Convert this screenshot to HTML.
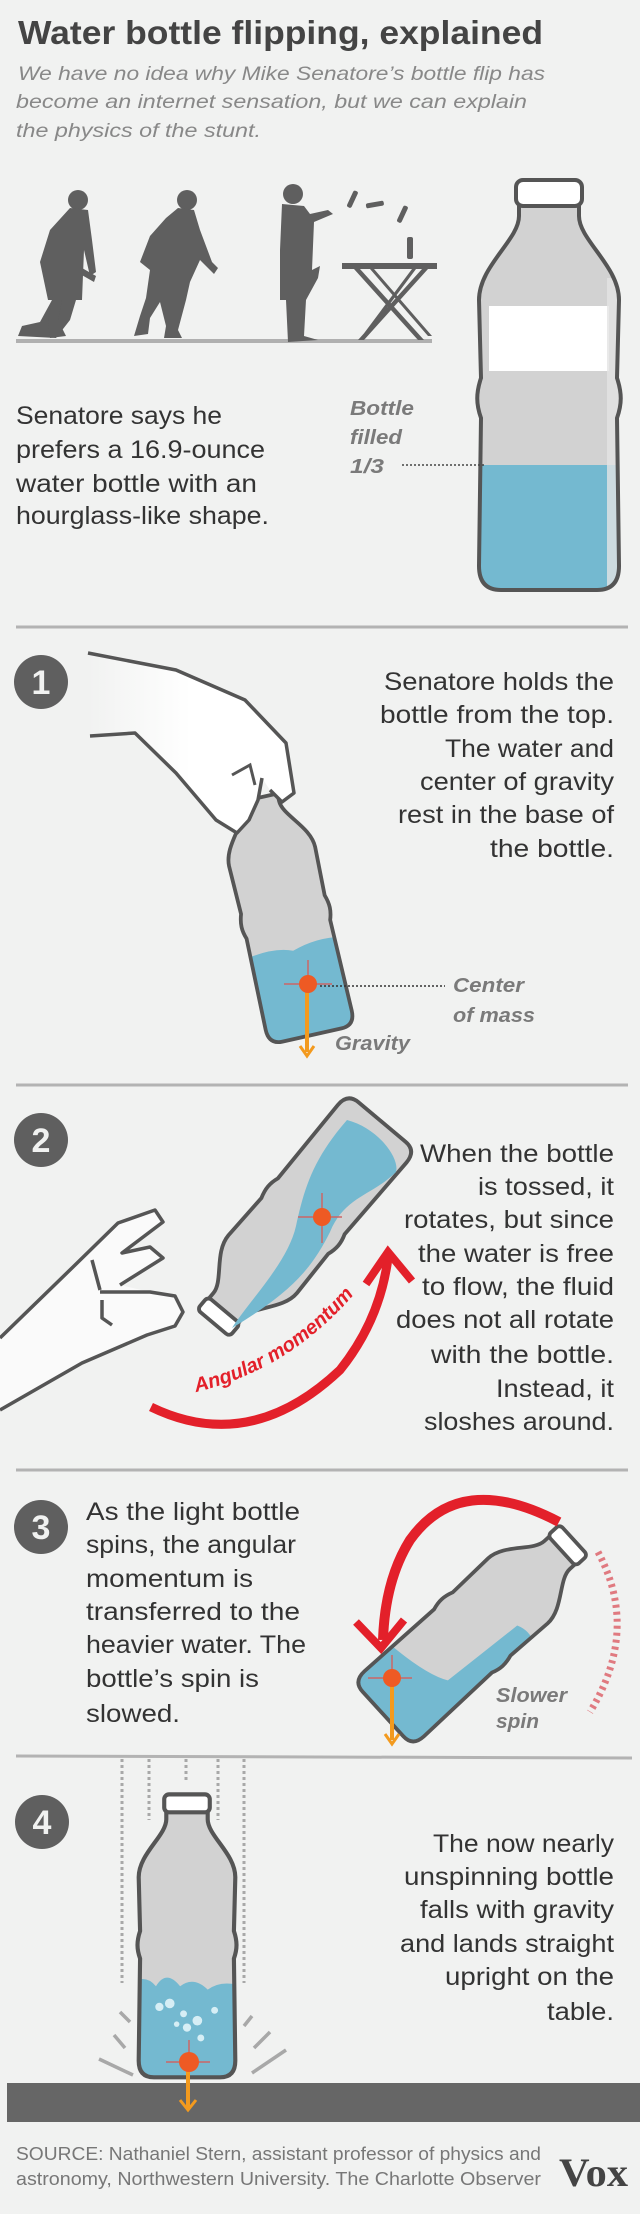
<!DOCTYPE html>
<html><head><meta charset="utf-8"><style>
html,body{margin:0;padding:0;background:#f1f2f1;}
svg{display:block;}
.t{font-family:"Liberation Sans",sans-serif;fill:#333;font-size:25px;}
.lab{font-family:"Liberation Sans",sans-serif;fill:#7a7a7a;font-size:20px;font-style:italic;font-weight:bold;}
.num{font-family:"Liberation Sans",sans-serif;fill:#f1f2f1;font-size:34px;font-weight:bold;}
</style></head><body>
<svg width="640" height="2214" viewBox="0 0 640 2214" xmlns="http://www.w3.org/2000/svg">
<defs>
<path id="bb" d="M -30 26 L -30 38 C -30 62 -70 88 -70 122 L -68 200 C -73 215 -73 226 -68 240 L -70 388 Q -70 412 -48 412 L 48 412 Q 70 412 70 388 L 68 240 C 73 226 73 215 68 200 L 70 122 C 70 88 30 62 30 38 L 30 26 Z"/>
<clipPath id="bc" clipPathUnits="userSpaceOnUse"><use href="#bb"/></clipPath>
<linearGradient id="hg" x1="0" x2="1" y1="0" y2="0"><stop offset="0" stop-color="#f1f2f1"/><stop offset="0.5" stop-color="#fff"/></linearGradient>
</defs>
<rect width="640" height="2214" fill="#f1f2f1"/>

<!-- Title -->
<text x="18" y="44" font-family="Liberation Sans,sans-serif" font-weight="bold" font-size="33" fill="#444" textLength="525" lengthAdjust="spacingAndGlyphs">Water bottle flipping, explained</text>
<g font-family="Liberation Sans,sans-serif" font-style="italic" font-size="19" fill="#888">
<text x="18" y="80" textLength="527" lengthAdjust="spacingAndGlyphs">We have no idea why Mike Senatore’s bottle flip has</text>
<text x="16" y="108" textLength="511" lengthAdjust="spacingAndGlyphs">become an internet sensation, but we can explain</text>
<text x="16" y="137" textLength="245" lengthAdjust="spacingAndGlyphs">the physics of the stunt.</text>
</g>

<!-- silhouettes -->
<g fill="#5f5f5f">
<rect x="16" y="339" width="416" height="4" fill="#b0b0b0"/>
<circle cx="78" cy="200" r="10"/>
<path d="M70 208 L88 210 L92 240 L96 272 L90 276 L84 250 L82 300 L76 300 L70 320 L56 338 L18 336 L22 326 L40 322 L52 300 L48 300 L40 262 L50 230 Z"/>
<path d="M52 300 L62 300 L58 320 L66 336 L50 338 L48 320 Z"/>
<path d="M82 268 L96 276 L94 282 L80 274 Z"/>
<circle cx="187" cy="200" r="10"/>
<path d="M178 208 L194 210 L200 230 L212 262 L218 268 L214 274 L200 260 L190 282 L186 300 L178 330 L182 338 L164 338 L166 326 L160 302 L150 318 L148 334 L134 336 L140 316 L146 298 L150 270 L140 262 L150 236 L166 218 Z"/>
<circle cx="293" cy="194" r="10"/>
<path d="M282 204 L304 206 L310 214 L328 210 L333 214 L314 222 L312 270 L320 266 L318 278 L306 300 L304 336 L318 340 L288 342 L286 300 L280 300 L280 250 Z"/>
<rect x="342" y="263" width="95" height="6"/>
<path d="M354 269 L418 340 L424 340 L360 269 Z M422 269 L358 340 L364 340 L428 269 Z M370 269 L428 336 L432 336 L374 269 Z M412 269 L362 336 L366 336 L416 269 Z"/>
<rect x="407" y="237" width="6" height="22" rx="2"/>
<rect x="350" y="190" width="5" height="18" rx="2" transform="rotate(25 352 199)"/>
<rect x="372" y="196" width="5" height="18" rx="2" transform="rotate(80 375 205)"/>
<rect x="400" y="205" width="5" height="18" rx="2" transform="rotate(25 402 214)"/>
</g>

<!-- big bottle -->
<g transform="translate(549,178)">
<use href="#bb" fill="#d2d2d2"/>
<g clip-path="url(#bc)">
<rect x="-60" y="128" width="120" height="65" fill="#fff"/>
<rect x="-80" y="287" width="160" height="140" fill="#74b9d0"/>
<rect x="58" y="100" width="14" height="310" fill="#e4e4e4" opacity="0.8"/>
</g>
<use href="#bb" fill="none" stroke="#555" stroke-width="4"/>
<rect x="-33" y="2" width="66" height="26" rx="7" fill="#fff" stroke="#555" stroke-width="4"/>
</g>
<line x1="402" y1="465" x2="486" y2="465" stroke="#444" stroke-width="1.5" stroke-dasharray="2,2"/>
<g class="lab"><text x="350" y="415" textLength="64" lengthAdjust="spacingAndGlyphs">Bottle</text><text x="350" y="444" textLength="52" lengthAdjust="spacingAndGlyphs">filled</text><text x="350" y="473" textLength="34" lengthAdjust="spacingAndGlyphs">1/3</text></g>
<g class="t" font-size="23">
<text x="16" y="424" textLength="206" lengthAdjust="spacingAndGlyphs">Senatore says he</text>
<text x="16" y="458" textLength="249" lengthAdjust="spacingAndGlyphs">prefers a 16.9-ounce</text>
<text x="16" y="492" textLength="241" lengthAdjust="spacingAndGlyphs">water bottle with an</text>
<text x="16" y="524" textLength="253" lengthAdjust="spacingAndGlyphs">hourglass-like shape.</text>
</g>
<g stroke="#b3b3b3" stroke-width="3"><line x1="16" y1="627" x2="628" y2="627"/><line x1="16" y1="1085" x2="628" y2="1085"/><line x1="16" y1="1470" x2="628" y2="1470"/><line x1="16" y1="1756" x2="632" y2="1758"/></g>

<!-- number circles -->
<g fill="#5f5f5f"><circle cx="41" cy="682" r="27"/><circle cx="41" cy="1140" r="27"/><circle cx="41" cy="1527" r="27"/><circle cx="42" cy="1822" r="27"/></g>
<g class="num" text-anchor="middle"><text x="41" y="694">1</text><text x="41" y="1152">2</text><text x="41" y="1539">3</text><text x="42" y="1834">4</text></g>

<!-- Section 1 -->
<g transform="translate(312,1035) rotate(-12.6) scale(0.63) translate(0,-412)">
<use href="#bb" fill="#d2d2d2"/>
<g clip-path="url(#bc)"><path d="M-80 272 Q -30 262 0 275 Q 40 262 80 270 L 80 420 L -80 420 Z" fill="#74b9d0"/></g>
<use href="#bb" fill="none" stroke="#555" stroke-width="6"/>
</g>
<path d="M88 653 L176 670 L245 700 L286 743 L294 793 L282 802 L270 790 L262 778 L258 800 L249 820 L237 833 L216 820 L176 773 L135 733 L90 736 L88 736 Z" fill="url(#hg)"/>
<path d="M88 653 L176 670 L245 700 L286 743 L294 793 L282 802 L270 790 M262 778 L258 800 L249 820 L237 833 L216 820 L176 773 L135 733 L90 736" fill="none" stroke="#555" stroke-width="3.5" stroke-linejoin="round"/>
<path d="M232 775 L250 765 L255 785" fill="none" stroke="#555" stroke-width="3"/>
<line x1="308" y1="960" x2="308" y2="1010" stroke="#c66" stroke-width="1.5"/><line x1="284" y1="984" x2="332" y2="984" stroke="#c66" stroke-width="1.5"/>
<line x1="307" y1="990" x2="307" y2="1052" stroke="#f39a1e" stroke-width="4"/>
<path d="M300 1046 L307 1056 L314 1046" fill="none" stroke="#f39a1e" stroke-width="3"/>
<circle cx="308" cy="984" r="9" fill="#ee5a24"/>
<line x1="320" y1="986" x2="445" y2="986" stroke="#333" stroke-width="1.5" stroke-dasharray="2,2"/>
<g class="lab"><text x="453" y="992" textLength="71" lengthAdjust="spacingAndGlyphs">Center</text><text x="453" y="1022" textLength="82" lengthAdjust="spacingAndGlyphs">of mass</text><text x="335" y="1050" textLength="75" lengthAdjust="spacingAndGlyphs">Gravity</text></g>
<g class="t" text-anchor="end">
<text x="614" y="690" textLength="230" lengthAdjust="spacingAndGlyphs">Senatore holds the</text>
<text x="614" y="723" textLength="234" lengthAdjust="spacingAndGlyphs">bottle from the top.</text>
<text x="614" y="757" textLength="169" lengthAdjust="spacingAndGlyphs">The water and</text>
<text x="614" y="790" textLength="194" lengthAdjust="spacingAndGlyphs">center of gravity</text>
<text x="614" y="823" textLength="216" lengthAdjust="spacingAndGlyphs">rest in the base of</text>
<text x="614" y="857" textLength="124" lengthAdjust="spacingAndGlyphs">the bottle.</text>
</g>

<!-- Section 2 -->
<g transform="translate(382,1122) rotate(-140) scale(0.64) translate(0,-412)">
<use href="#bb" fill="#d2d2d2"/>
<use href="#bb" fill="none" stroke="#555" stroke-width="6"/>
<rect x="-33" y="2" width="66" height="26" rx="7" fill="#fff" stroke="#555" stroke-width="6"/>
</g>
<path d="M347 1120 C 378 1128 400 1158 396 1172 C 372 1196 345 1196 330 1232 C 312 1268 292 1292 232 1328 C 250 1300 288 1262 296 1226 C 304 1190 312 1160 347 1120 Z" fill="#74b9d0"/>
<line x1="322" y1="1193" x2="322" y2="1243" stroke="#c66" stroke-width="1.5"/><line x1="298" y1="1217" x2="342" y2="1217" stroke="#c66" stroke-width="1.5"/>
<circle cx="322" cy="1217" r="9" fill="#ee5a24"/>
<path d="M0 1338 L73 1267 L118 1223 L155 1210 L163 1222 L122 1253 L150 1247 L163 1258 L120 1285 L150 1292 L175 1296 L183 1312 L175 1326 L147 1335 L82 1363 L0 1410 Z" fill="#fafafa"/>
<path d="M0 1338 L73 1267 L118 1223 L155 1210 L163 1222 L122 1253 L150 1247 L163 1258 L120 1285 M100 1292 L150 1292 L175 1296 L183 1312 L175 1326 L147 1335 L82 1363 L0 1410 M100 1290 L92 1260 M102 1300 L102 1318 L112 1325" fill="none" stroke="#555" stroke-width="3.5" stroke-linejoin="round"/>
<path d="M151 1407 Q 250 1455 340 1370 Q 380 1320 388 1258" fill="none" stroke="#e3202a" stroke-width="9"/>
<path d="M366 1284 L388 1252 L412 1281" fill="none" stroke="#e3202a" stroke-width="8"/>
<path id="amp" d="M196 1392 Q 290 1370 356 1292" fill="none"/>
<text font-family="Liberation Sans,sans-serif" font-style="italic" font-weight="bold" font-size="20" fill="#e3202a"><textPath href="#amp">Angular momentum</textPath></text>
<g class="t" text-anchor="end">
<text x="614" y="1162" textLength="194" lengthAdjust="spacingAndGlyphs">When the bottle</text>
<text x="614" y="1195" textLength="136" lengthAdjust="spacingAndGlyphs">is tossed, it</text>
<text x="614" y="1228" textLength="210" lengthAdjust="spacingAndGlyphs">rotates, but since</text>
<text x="614" y="1262" textLength="196" lengthAdjust="spacingAndGlyphs">the water is free</text>
<text x="614" y="1295" textLength="192" lengthAdjust="spacingAndGlyphs">to flow, the fluid</text>
<text x="614" y="1328" textLength="218" lengthAdjust="spacingAndGlyphs">does not all rotate</text>
<text x="614" y="1363" textLength="183" lengthAdjust="spacingAndGlyphs">with the bottle.</text>
<text x="614" y="1397" textLength="118" lengthAdjust="spacingAndGlyphs">Instead, it</text>
<text x="614" y="1430" textLength="190" lengthAdjust="spacingAndGlyphs">sloshes around.</text>
</g>

<!-- Section 3 -->
<g transform="translate(383,1714) rotate(47.6) scale(0.63) translate(0,-412)">
<use href="#bb" fill="#d2d2d2"/>
<g clip-path="url(#bc)"><path d="M-80 330 Q 0 320 30 300 L 40 160 Q 60 150 80 160 L 80 420 L -80 420 Z" fill="#74b9d0"/></g>
<use href="#bb" fill="none" stroke="#555" stroke-width="6"/>
<rect x="-33" y="2" width="66" height="26" rx="7" fill="#fff" stroke="#555" stroke-width="6"/>
</g>
<path d="M559 1522 Q 460 1470 410 1540 Q 385 1580 383 1640" fill="none" stroke="#e3202a" stroke-width="10"/>
<path d="M356 1622 L381 1648 L404 1620" fill="none" stroke="#e3202a" stroke-width="8"/>
<path d="M598 1552 Q 640 1630 590 1712" fill="none" stroke="#e07a80" stroke-width="7" stroke-dasharray="3,4"/>
<line x1="392" y1="1655" x2="392" y2="1702" stroke="#c66" stroke-width="1.5"/><line x1="368" y1="1678" x2="412" y2="1678" stroke="#c66" stroke-width="1.5"/>
<line x1="392" y1="1684" x2="392" y2="1740" stroke="#f39a1e" stroke-width="4"/>
<path d="M385 1734 L392 1744 L399 1734" fill="none" stroke="#f39a1e" stroke-width="3"/>
<circle cx="392" cy="1678" r="9" fill="#ee5a24"/>
<g class="lab"><text x="496" y="1702" textLength="71" lengthAdjust="spacingAndGlyphs">Slower</text><text x="496" y="1728" textLength="43" lengthAdjust="spacingAndGlyphs">spin</text></g>
<g class="t">
<text x="86" y="1520" textLength="214" lengthAdjust="spacingAndGlyphs">As the light bottle</text>
<text x="86" y="1553" textLength="210" lengthAdjust="spacingAndGlyphs">spins, the angular</text>
<text x="86" y="1587" textLength="167" lengthAdjust="spacingAndGlyphs">momentum is</text>
<text x="86" y="1620" textLength="214" lengthAdjust="spacingAndGlyphs">transferred to the</text>
<text x="86" y="1653" textLength="220" lengthAdjust="spacingAndGlyphs">heavier water. The</text>
<text x="86" y="1687" textLength="173" lengthAdjust="spacingAndGlyphs">bottle’s spin is</text>
<text x="86" y="1722" textLength="94" lengthAdjust="spacingAndGlyphs">slowed.</text>
</g>

<!-- Section 4 -->
<g stroke="#a8a8a8" stroke-width="3" stroke-dasharray="3,3">
<line x1="122" y1="1759" x2="122" y2="1983"/><line x1="149" y1="1759" x2="149" y2="1820"/><line x1="186" y1="1759" x2="186" y2="1780"/><line x1="218" y1="1759" x2="218" y2="1820"/><line x1="244" y1="1759" x2="244" y2="1983"/>
</g>
<g transform="translate(187,1793) scale(0.69)">
<use href="#bb" fill="#d2d2d2"/>
<g clip-path="url(#bc)"><path d="M-80 275 Q -60 262 -45 280 Q -30 255 -10 280 Q 10 265 30 285 Q 50 270 80 280 L 80 420 L -80 420 Z" fill="#74b9d0"/>
<g fill="#d6eef5"><circle cx="-40" cy="310" r="6"/><circle cx="-25" cy="305" r="7"/><circle cx="-5" cy="320" r="5"/><circle cx="15" cy="330" r="7"/><circle cx="0" cy="340" r="6"/><circle cx="-15" cy="335" r="4"/><circle cx="20" cy="355" r="5"/><circle cx="40" cy="315" r="5"/></g></g>
<use href="#bb" fill="none" stroke="#555" stroke-width="6"/>
<rect x="-33" y="2" width="66" height="26" rx="7" fill="#fff" stroke="#555" stroke-width="6"/>
</g>
<g stroke="#a8a8a8" stroke-width="3.5"><line x1="120" y1="2012" x2="130" y2="2022"/><line x1="114" y1="2035" x2="125" y2="2048"/><line x1="99" y1="2059" x2="133" y2="2075"/><line x1="244" y1="2026" x2="252" y2="2016"/><line x1="254" y1="2048" x2="270" y2="2032"/><line x1="252" y1="2073" x2="286" y2="2050"/></g>
<line x1="189" y1="2040" x2="189" y2="2084" stroke="#c66" stroke-width="1.5"/><line x1="166" y1="2062" x2="210" y2="2062" stroke="#c66" stroke-width="1.5"/>
<rect x="7" y="2083" width="633" height="39" fill="#666"/>
<line x1="188" y1="2068" x2="188" y2="2108" stroke="#f39a1e" stroke-width="4"/>
<path d="M180 2100 L188 2110 L196 2100" fill="none" stroke="#f39a1e" stroke-width="3"/>
<circle cx="189" cy="2062" r="10" fill="#ee5a24"/>
<g class="t" text-anchor="end">
<text x="614" y="1852" textLength="181" lengthAdjust="spacingAndGlyphs">The now nearly</text>
<text x="614" y="1885" textLength="210" lengthAdjust="spacingAndGlyphs">unspinning bottle</text>
<text x="614" y="1918" textLength="194" lengthAdjust="spacingAndGlyphs">falls with gravity</text>
<text x="614" y="1952" textLength="214" lengthAdjust="spacingAndGlyphs">and lands straight</text>
<text x="614" y="1985" textLength="169" lengthAdjust="spacingAndGlyphs">upright on the</text>
<text x="614" y="2020" textLength="67" lengthAdjust="spacingAndGlyphs">table.</text>
</g>
<g font-family="Liberation Sans,sans-serif" font-size="18" fill="#777">
<text x="16" y="2160" textLength="525" lengthAdjust="spacingAndGlyphs">SOURCE: Nathaniel Stern, assistant professor of physics and</text>
<text x="16" y="2185" textLength="525" lengthAdjust="spacingAndGlyphs">astronomy, Northwestern University. The Charlotte Observer</text>
</g>
<text x="559" y="2186" font-family="Liberation Serif,serif" font-weight="bold" font-size="40" fill="#444" textLength="69" lengthAdjust="spacingAndGlyphs">Vox</text>
</svg>
</body></html>
